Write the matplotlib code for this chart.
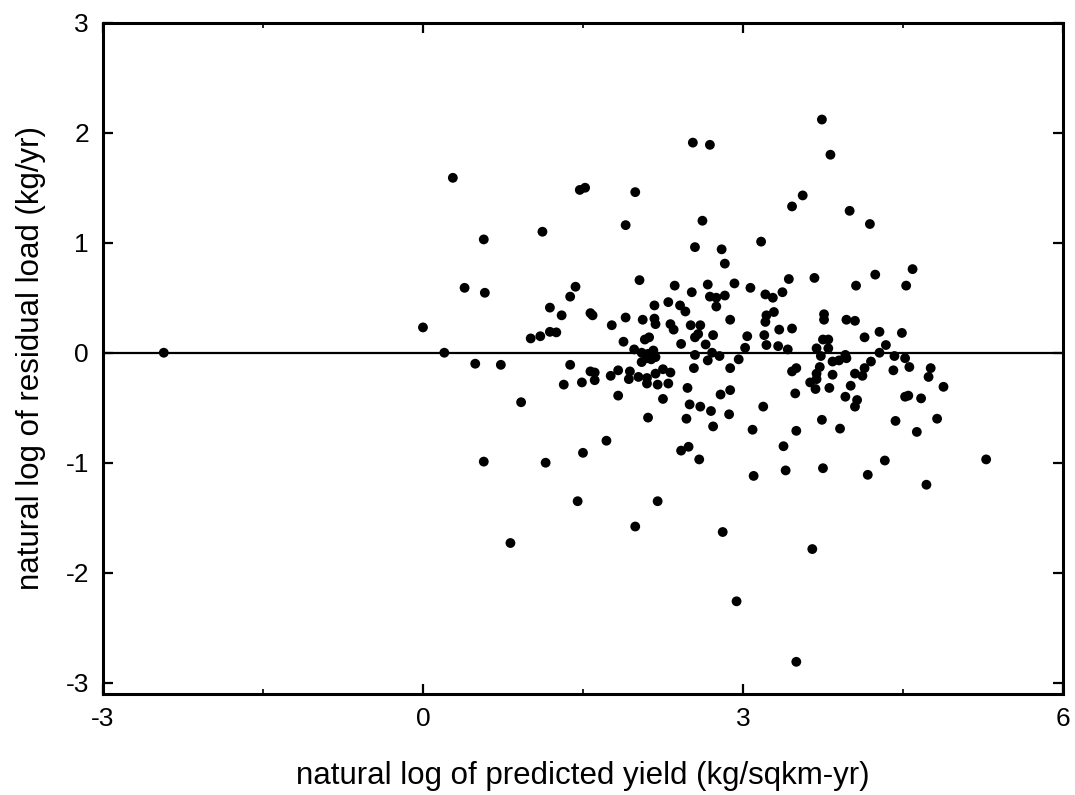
import matplotlib
matplotlib.use("Agg")
import matplotlib.pyplot as plt
from matplotlib.ticker import MultipleLocator

# ==========================================
# DATA
# ==========================================
pred_yield = [
    -2.43, 0.00, 0.28, 0.20, 0.39, 0.57, 0.58, 0.49, 0.73, 0.92,
    0.57, 0.82, 1.01, 1.10, 1.19, 1.25, 1.19, 1.30, 1.38, 1.43,
    1.57, 1.59, 1.77, 1.38, 1.32, 1.49, 1.57, 1.61, 1.61, 1.76,
    1.83, 1.83, 1.15, 1.50, 1.72, 1.45, 1.99, 2.20, 1.12,
    3.74, 2.53, 2.69, 3.82, 1.47, 1.52, 1.99, 3.56, 3.46, 4.00,
    1.90, 4.19, 2.62, 3.17, 2.55, 2.80, 2.83, 4.59, 4.24, 3.67,
    3.43, 2.03, 4.53, 4.06, 2.92, 3.07, 2.36, 2.67, 2.52, 2.83,
    2.69, 2.75, 3.21, 3.28, 3.37, 2.75, 2.17, 2.30, 2.41, 2.46,
    1.90, 2.06, 2.17, 2.18, 2.32, 2.35, 2.51, 2.60, 2.88, 3.22,
    3.21, 3.29, 3.76, 3.76, 3.97, 4.05, 1.88, 2.08, 2.12, 2.42,
    2.55, 2.58, 2.72, 2.65, 3.04, 3.20, 3.22, 3.34, 3.46, 3.33,
    3.02, 3.42, 3.75, 3.80, 3.69, 3.80, 4.14, 4.28, 4.49, 4.34,
    1.98, 2.05, 2.11, 2.16, 2.18, 2.55, 2.71, 2.78, 3.73, 3.96,
    4.28, 4.42, 4.52, 2.05, 2.10, 2.14, 2.67, 2.96, 3.84, 3.90,
    3.97, 4.20, 4.56, 1.94, 2.18, 2.25, 2.32, 2.54, 2.88, 3.46,
    3.50, 3.72, 3.69, 3.84, 4.05, 4.12, 4.14, 4.41, 4.76, 4.74,
    4.88, 1.93, 2.02, 2.10, 2.20, 2.30, 2.10, 2.48, 2.25, 2.79,
    2.88, 3.49, 3.63, 3.68, 3.81, 4.01, 3.96, 4.07, 4.05, 4.52,
    4.55, 4.67, 2.50, 2.60, 2.70, 2.87, 3.19, 2.11, 2.47, 2.72,
    3.09, 2.42, 2.49, 2.59, 3.10, 3.38, 3.40, 3.50, 3.74, 3.91,
    3.75, 4.43, 4.63, 4.82, 4.33, 4.17, 4.72, 5.28, 2.81, 2.94,
    3.50, 3.65, 3.69,
]
resid_load = [
    0.00, 0.23, 1.59, 0.00, 0.59, 1.03, 0.545, -0.10, -0.11, -0.45,
    -0.99, -1.73, 0.13, 0.15, 0.19, 0.185, 0.41, 0.34, 0.51, 0.60,
    0.36, 0.34, 0.25, -0.11, -0.29, -0.27, -0.17, -0.18, -0.25, -0.21,
    -0.16, -0.39, -1.00, -0.91, -0.80, -1.35, -1.58, -1.35, 1.10,
    2.12, 1.91, 1.89, 1.80, 1.48, 1.50, 1.46, 1.43, 1.33, 1.29,
    1.16, 1.17, 1.20, 1.01, 0.96, 0.94, 0.81, 0.76, 0.71, 0.68,
    0.67, 0.66, 0.61, 0.61, 0.63, 0.59, 0.61, 0.62, 0.55, 0.52,
    0.51, 0.50, 0.53, 0.50, 0.55, 0.42, 0.43, 0.46, 0.43, 0.375,
    0.32, 0.30, 0.31, 0.26, 0.26, 0.21, 0.25, 0.25, 0.30, 0.34,
    0.28, 0.37, 0.35, 0.30, 0.30, 0.29, 0.10, 0.12, 0.14, 0.08,
    0.14, 0.17, 0.16, 0.075, 0.15, 0.16, 0.07, 0.21, 0.22, 0.06,
    0.045, 0.03, 0.12, 0.12, 0.04, 0.04, 0.14, 0.19, 0.18, 0.07,
    0.03, 0.00, -0.01, 0.02, -0.04, -0.02, 0.00, -0.03, -0.03, -0.02,
    0.00, -0.03, -0.05, -0.085, -0.05, -0.06, -0.07, -0.06, -0.08, -0.07,
    -0.05, -0.08, -0.13, -0.17, -0.19, -0.15, -0.18, -0.14, -0.14, -0.17,
    -0.14, -0.13, -0.19, -0.20, -0.19, -0.21, -0.14, -0.16, -0.14, -0.22,
    -0.31, -0.24, -0.22, -0.23, -0.29, -0.28, -0.28, -0.32, -0.42, -0.38,
    -0.34, -0.37, -0.27, -0.33, -0.32, -0.30, -0.40, -0.43, -0.49, -0.40,
    -0.39, -0.415, -0.47, -0.49, -0.53, -0.56, -0.49, -0.59, -0.60, -0.67,
    -0.70, -0.89, -0.855, -0.97, -1.12, -0.85, -1.07, -0.71, -0.61, -0.69,
    -1.05, -0.62, -0.72, -0.60, -0.98, -1.11, -1.20, -0.97, -1.63, -2.26,
    -2.81, -1.785, -0.24,
]

x_ticks = [-3, 0, 3, 6]
y_ticks = [-3, -2, -1, 0, 1, 2, 3]

# ==========================================
# STYLE
# ==========================================
plt.rcParams.update({
    'font.family': ['Liberation Sans', 'DejaVu Sans'],
    'axes.linewidth': 2.2,
    'axes.edgecolor': 'black',
    'axes.unicode_minus': False,   # plain hyphen minus like the original
})

fig = plt.figure(figsize=(10.75, 7.95), dpi=100)
ax = fig.add_axes([0.0958, 0.127, 0.893, 0.8444])

# zero reference line behind the dots
ax.axhline(0, color='black', linewidth=1.6, zorder=1)
ax.scatter(pred_yield, resid_load, s=50, color='black', edgecolors='none', zorder=2)

ax.set_xlim(-3, 6)
ax.set_ylim(-3.103, 3)
ax.set_xticks(x_ticks)
ax.set_yticks(y_ticks)
ax.xaxis.set_minor_locator(MultipleLocator(1.5))
ax.tick_params(axis='both', which='major', direction='in', length=7, width=1.6,
               labelsize=19, top=True, right=True)
ax.tick_params(axis='x', which='minor', direction='in', length=3.5, width=1.2, top=True)
ax.tick_params(axis='x', which='major', pad=9)
ax.tick_params(axis='y', which='major', pad=10)

ax.set_xlabel('natural log of predicted yield (kg/sqkm-yr)', fontsize=22.5, labelpad=22)
ax.set_ylabel('natural log of residual load (kg/yr)', fontsize=22.5, labelpad=14)

fig.savefig('out.png', dpi=100)
